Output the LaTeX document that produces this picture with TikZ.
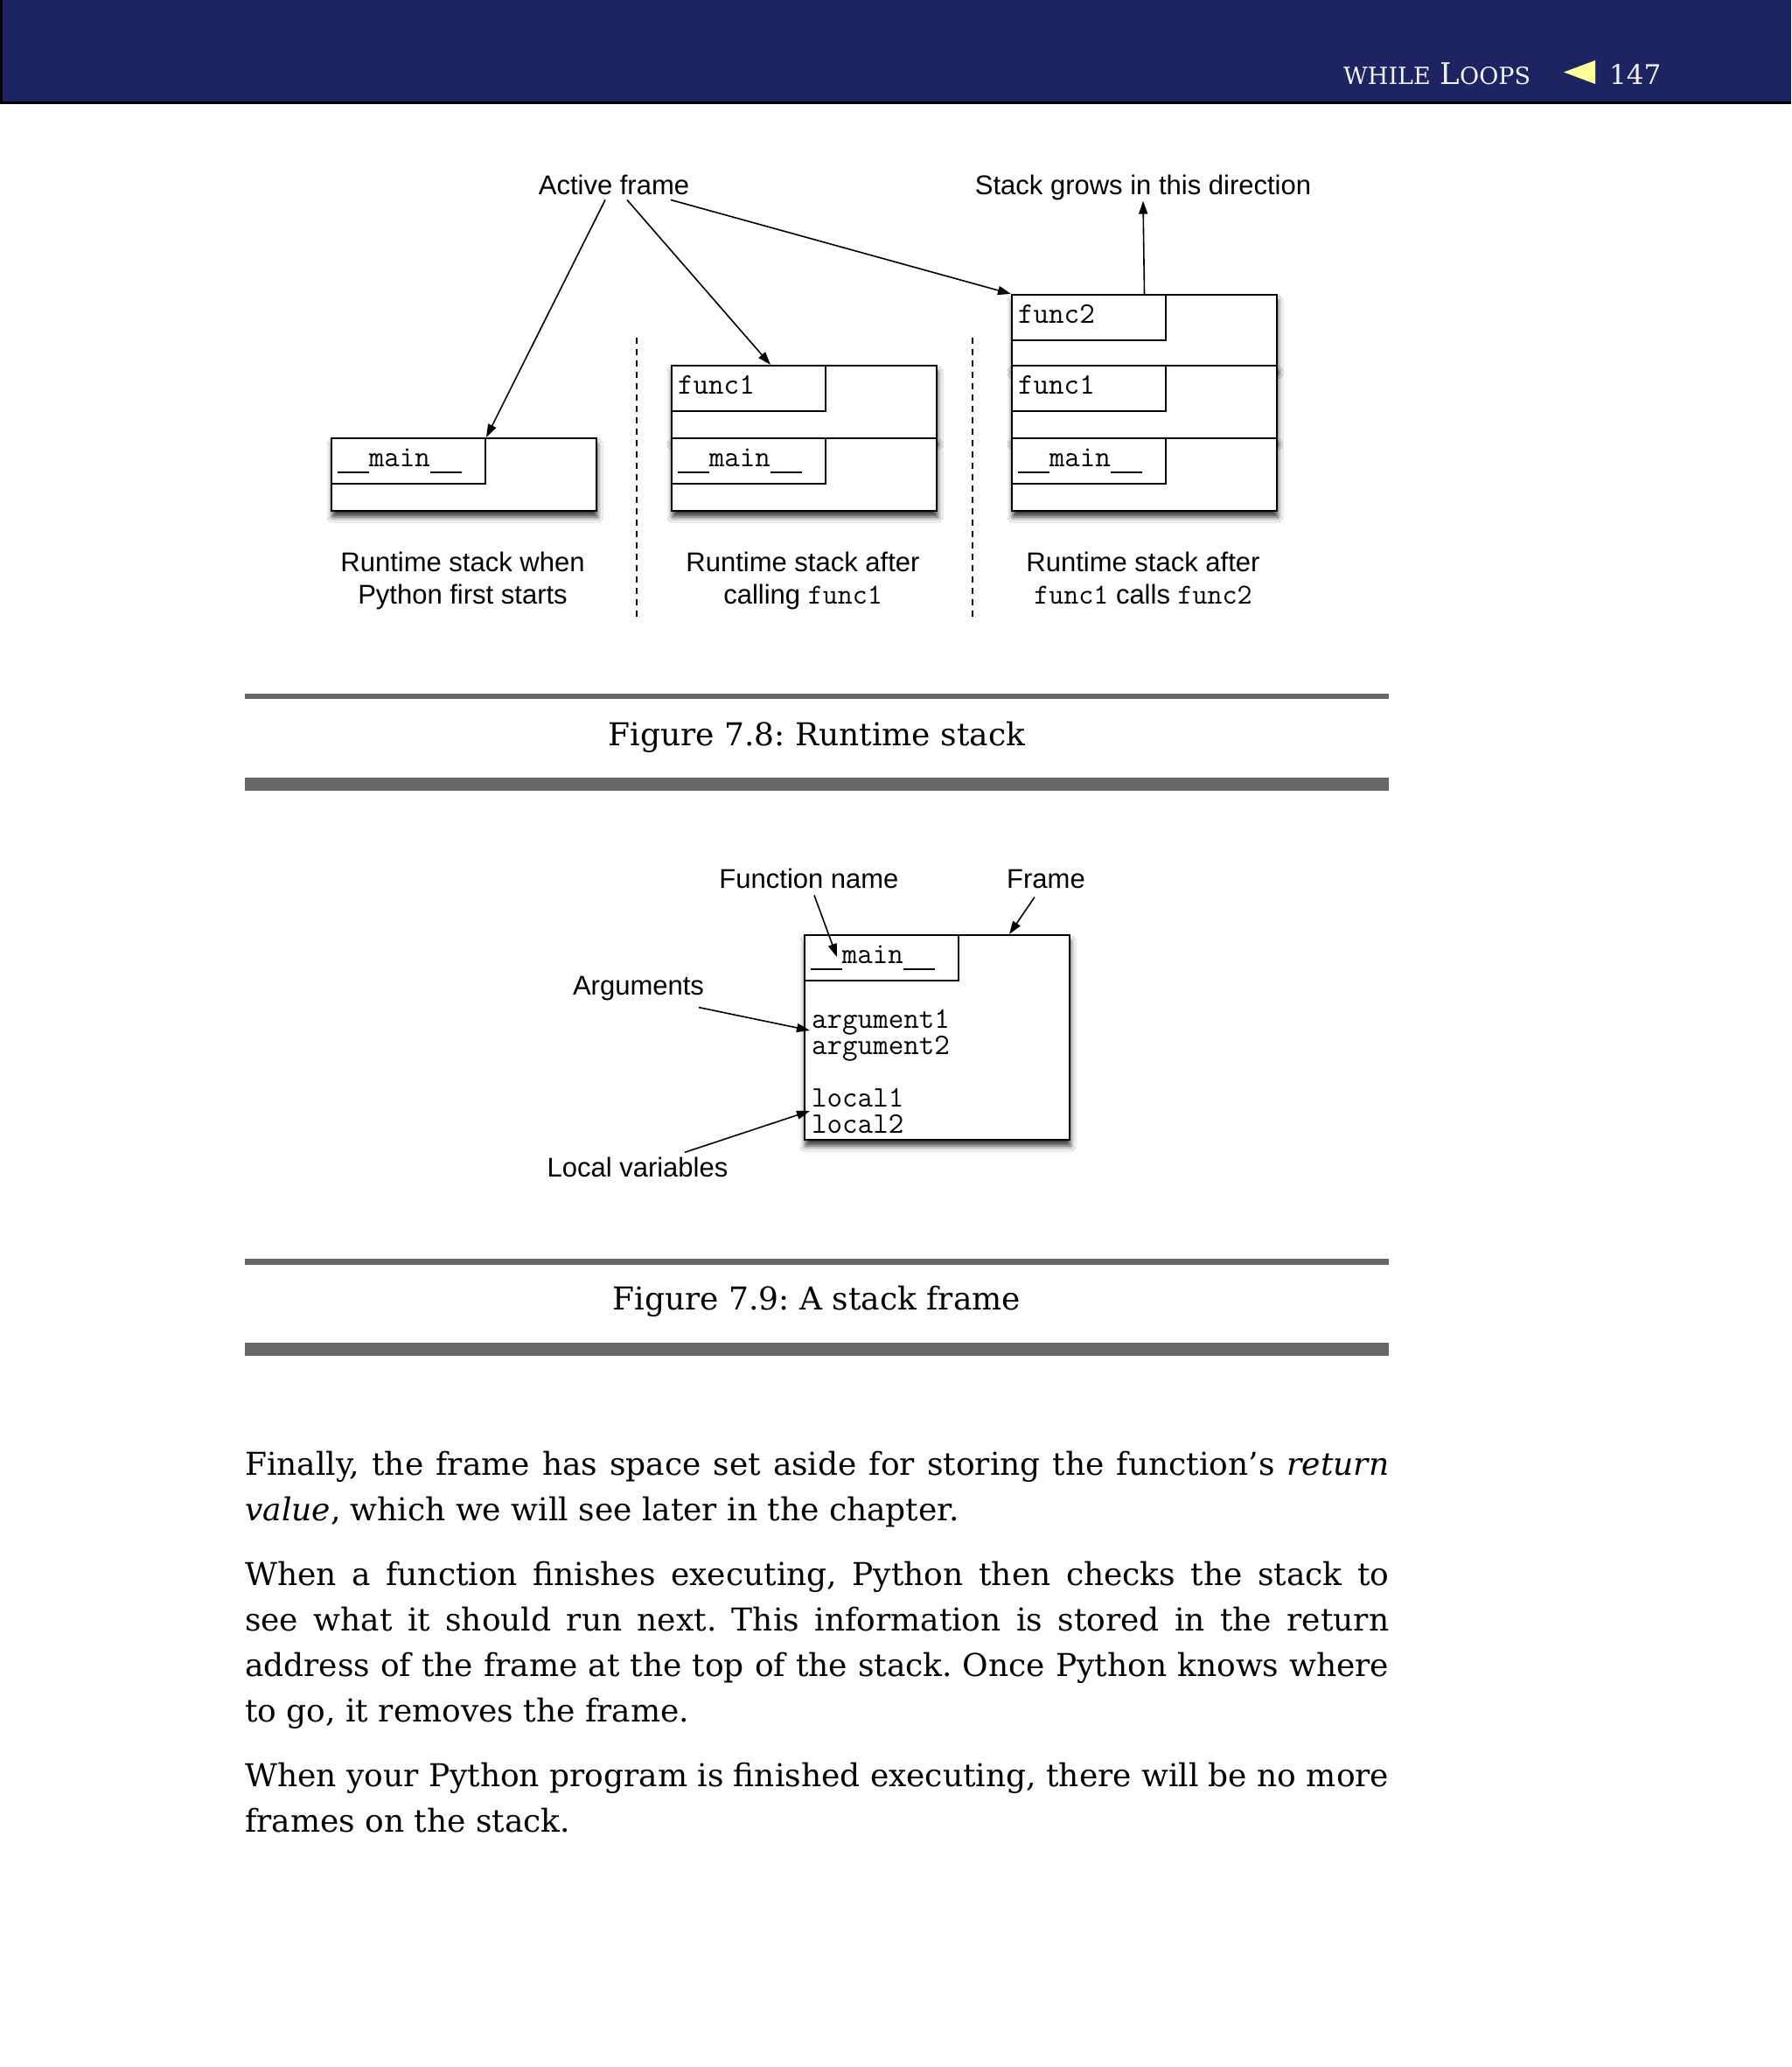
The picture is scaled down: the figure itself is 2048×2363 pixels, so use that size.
\documentclass[tikz,border=0pt]{standalone}
\usepackage{fontspec}
\setmainfont{DejaVu Serif}
\setsansfont{Liberation Sans}
\usetikzlibrary{arrows.meta,shadows.blur}
\definecolor{navy}{RGB}{30,36,98}
\definecolor{rulegray}{RGB}{104,102,104}
\definecolor{tri}{RGB}{255,255,153}
\definecolor{hdrtext}{RGB}{242,242,248}
\frenchspacing
% two underscores drawn as one continuous thin line, as in the reference
\newcommand{\dblus}{\rule[-8pt]{35.7pt}{1.6pt}}
\newcommand{\mainname}{\dblus main\dblus}
\tikzset{
  lbl/.style={font=\sffamily\fontsize{31}{37}\selectfont, inner sep=0pt, anchor=base},
  mono/.style={font=\ttfamily\fontsize{34}{34}\selectfont, inner sep=0pt, anchor=base west},
  stackframe/.style={draw, line width=2pt, fill=white, minimum width=303pt, minimum height=83pt,
    anchor=north west, inner sep=0pt,
    blur shadow={shadow xshift=1pt, shadow yshift=-7pt, shadow blur radius=6pt, shadow opacity=80}},
  namebox/.style={draw, line width=2pt, minimum width=176pt, minimum height=52pt, anchor=north west, inner sep=0pt},
  pointer/.style={line width=1.6pt, -{Triangle[length=15pt,width=10pt]}},
  sepline/.style={line width=2pt, dash pattern=on 7pt off 6pt},
  body/.style={font=\fontsize{36}{52}\selectfont, inner sep=0pt, anchor=base west},
  figcap/.style={font=\fontsize{36}{44}\selectfont, inner sep=0pt, anchor=base},
  bar/.style={fill=rulegray, draw=none},
}
\begin{document}
\begin{tikzpicture}[x=1pt,y=-1pt]
\useasboundingbox (0,0) rectangle (2048,2363);
\fill[white] (0,0) rectangle (2048,2363);

% ---------- header ----------
\fill[navy] (0,0) rectangle (2048,116);
\fill[black] (0,116) rectangle (2048,119);
\fill[black] (0,0) rectangle (3,119);
\node[inner sep=0pt, anchor=base west, text=hdrtext] (hdr) at (1536,97)
  {{\fontsize{27}{27}\selectfont WHILE}{\fontsize{34}{34}\selectfont\ L}{\fontsize{27}{27}\selectfont OOPS}};
\fill[tri] (1788,82.5) -- (1824,69) -- (1824,96) -- cycle;
\node[inner sep=0pt, anchor=base west, text=hdrtext, font=\fontsize{31}{31}\selectfont] (pg) at (1840,97) {147};

% ---------- Figure 7.8 ----------
\node[lbl] (af) at (702,222) {Active frame};
\node[lbl] (sg) at (1307,222) {Stack grows in this direction};

% stack 1
\node[stackframe] (f1a) at (378,500) {};
\node[namebox] (n1a) at (378,500) {};
\node[mono] (t1a) at (386,533) {\mainname};

% stack 2
\node[stackframe] (f2a) at (767,417) {};
\node[stackframe] (f2b) at (767,500) {};
\node[namebox] (n2a) at (767,417) {};
\node[namebox] (n2b) at (767,500) {};
\node[mono] (t2a) at (775,450) {func1};
\node[mono] (t2b) at (775,533) {\mainname};

% stack 3
\node[stackframe] (f3a) at (1156,336) {};
\node[stackframe] (f3b) at (1156,417) {};
\node[stackframe] (f3c) at (1156,500) {};
\node[namebox] (n3a) at (1156,336) {};
\node[namebox] (n3b) at (1156,417) {};
\node[namebox] (n3c) at (1156,500) {};
\node[mono] (t3a) at (1164,369) {func2};
\node[mono] (t3b) at (1164,450) {func1};
\node[mono] (t3c) at (1164,533) {\mainname};

% separators
\coordinate (s1t) at (728,386); \coordinate (s1b) at (728,708);
\coordinate (s2t) at (1112,386); \coordinate (s2b) at (1112,708);
\draw[sepline] (s1t) -- (s1b);
\draw[sepline] (s2t) -- (s2b);

% arrows
\draw[pointer] ([xshift=-10pt,yshift=-6pt]af.south) -- (n1a.north east);
\draw[pointer] ([xshift=15pt,yshift=-6pt]af.south) -- ([xshift=114pt]f2a.north west);
\draw[pointer] ([xshift=65pt,yshift=-6pt]af.south) -- (f3a.north west);
\draw[pointer] (f3a.north) -- ([yshift=-1pt]sg.south);

% captions under stacks
\node[lbl] (c1a) at (529,653) {Runtime stack when};
\node[lbl] (c1b) at (529,690) {Python first starts};
\node[lbl] (c2a) at (918,653) {Runtime stack after};
\node[lbl] (c2b) at (918,690) {calling {\ttfamily\fontsize{33}{33}\selectfont func1}};
\node[lbl] (c3a) at (1307,653) {Runtime stack after};
\node[lbl] (c3b) at (1307,690) {{\ttfamily\fontsize{33}{33}\selectfont func1} calls {\ttfamily\fontsize{33}{33}\selectfont func2}};

% figure caption 7.8
\fill[bar] (280,793) rectangle (1588,799);
\node[figcap] (cap78) at (934,852) {Figure 7.8: Runtime stack};
\fill[bar] (280,889) rectangle (1588,904);

% ---------- Figure 7.9 ----------
\node[stackframe, minimum height=234pt] (sf) at (919,1068) {};
\node[namebox] (mn) at (919,1068) {};
\node[mono] (tmn) at (927,1101) {\mainname};
\node[mono] (ta1) at (928,1175) {argument1};
\node[mono] (ta2) at (928,1205) {argument2};
\node[mono] (tl1) at (928,1265) {local1};
\node[mono] (tl2) at (928,1295) {local2};

\node[lbl] (fn) at (925,1015) {Function name};
\node[lbl] (fr) at (1196,1015) {Frame};
\node[lbl] (ar) at (730,1137) {Arguments};
\node[lbl] (lv) at (729,1345) {Local variables};

\draw[pointer] ([xshift=6pt,yshift=-8pt]fn.south) -- ([xshift=38pt,yshift=-26pt]mn.north west);
\draw[pointer] ([xshift=-13pt,yshift=-10pt]fr.south) -- ([xshift=235pt]sf.north west);
\draw[pointer] ([xshift=69pt,yshift=-8pt]ar.south) -- ([xshift=7pt,yshift=-110pt]sf.north west);
\draw[pointer] ([xshift=54pt,yshift=5pt]lv.north) -- ([xshift=7pt,yshift=-202pt]sf.north west);

% figure caption 7.9
\fill[bar] (280,1439) rectangle (1588,1446);
\node[figcap] (cap79) at (934,1497) {Figure 7.9: A stack frame};
\fill[bar] (280,1535) rectangle (1588,1550);

% ---------- body text ----------
\node[body] (l1) at (280,1686) {\makebox[1308pt][s]{Finally, the frame has space set aside for storing the function’s \textit{return}}};
\node[body] (l2) at (280,1738) {\textit{value}, which we will see later in the chapter.};
\node[body] (l3) at (280,1812) {\makebox[1308pt][s]{When a function finishes executing, Python then checks the stack to}};
\node[body] (l4) at (280,1864) {\makebox[1308pt][s]{see what it should run next. This information is stored in the return}};
\node[body] (l5) at (280,1916) {\makebox[1308pt][s]{address of the frame at the top of the stack. Once Python knows where}};
\node[body] (l6) at (280,1968) {to go, it removes the frame.};
\node[body] (l7) at (280,2042) {\makebox[1308pt][s]{When your Python program is finished executing, there will be no more}};
\node[body] (l8) at (280,2094) {frames on the stack.};
\end{tikzpicture}
\end{document}
